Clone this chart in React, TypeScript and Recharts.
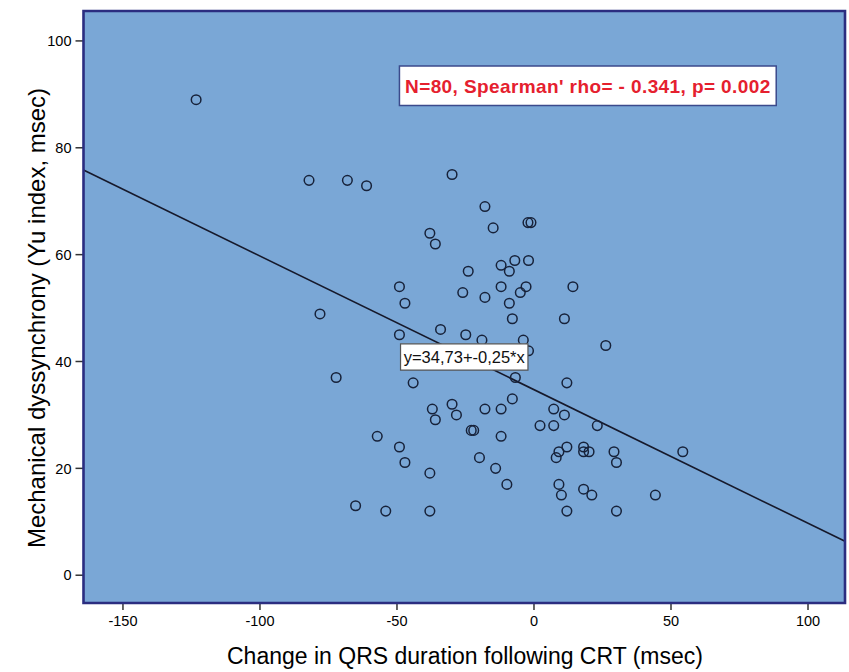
import {
  ScatterChart,
  Scatter,
  XAxis,
  YAxis,
  CartesianGrid,
  ReferenceArea,
  ReferenceLine,
} from "recharts";

// change in QRS duration (msec)
const qrsChange = [
  -123.3, -82.1, -68.1, -61.1, -29.9, -17.9, -14.9, -2.2, -1.1, -38.0,
  -36.0, -7.0, -2.0, -12.0, -9.0, -24.0, -49.1, -12.0, -2.9, 14.2,
  -26.0, -5.0, -17.9, -47.1, -9.0, -78.1, -7.9, 11.1, -34.1, -49.1,
  -24.9, -19.0, -3.9, 26.2, -2.0, -72.2, -6.8, -44.1, 12.0, -7.9,
  -29.9, -37.1, -17.9, -12.0, 7.2, -28.3, 11.1, -36.0, 2.2, 7.2,
  23.1, -22.9, -22.0, -57.2, -12.0, -49.1, 12.0, 18.1, 9.1, 18.1,
  20.1, 29.2, 54.3, 8.1, -19.9, -47.1, 30.1, -14.0, -38.0, -9.9,
  9.1, 18.1, 10.0, 21.1, 44.3, -65.1, -54.1, -38.0, 12.0, 30.1,
];

// Yu index (msec)
const yuIndex = [
  89.0, 73.9, 73.9, 72.9, 75.0, 69.0, 65.0, 66.0, 66.0, 64.0,
  62.0, 58.9, 58.9, 58.0, 56.9, 56.9, 54.0, 54.0, 54.0, 54.0,
  52.9, 52.9, 52.0, 50.9, 50.9, 48.9, 48.0, 48.0, 46.0, 45.0,
  45.0, 44.0, 44.0, 43.0, 42.0, 37.0, 37.0, 36.0, 36.0, 33.0,
  32.0, 31.1, 31.1, 31.1, 31.1, 30.0, 30.0, 29.1, 28.0, 28.0,
  28.0, 27.1, 27.1, 26.0, 26.0, 24.0, 24.0, 24.0, 23.1, 23.1,
  23.1, 23.1, 23.1, 22.0, 22.0, 21.1, 21.1, 20.0, 19.1, 17.0,
  17.0, 16.1, 15.0, 15.0, 15.0, 13.0, 12.0, 12.0, 12.0, 12.0,
];

const xTicks = [-150, -100, -50, 0, 50, 100];
const yTicks = [0, 20, 40, 60, 80, 100];

const INTERCEPT = 34.73;
const SLOPE = -0.25;

const X_MIN = -164.4;
const X_MAX = 113.5;
const Y_MIN = -5.2;
const Y_MAX = 105.6;

const X_TITLE = "Change in QRS duration following CRT (msec)";
const Y_TITLE = "Mechanical dyssynchrony (Yu index, msec)";
const STATS_TEXT = "N=80, Spearman' rho= - 0.341, p= 0.002";
const FIT_TEXT = "y=34,73+-0,25*x";

const points = qrsChange.map((x, i) => ({ x, y: yuIndex[i] }));

const FONT = "'Liberation Sans', Arial, sans-serif";

function OpenCircle(props: any) {
  const { cx, cy } = props;
  if (cx == null || cy == null) return null;
  return (
    <circle
      cx={cx}
      cy={cy}
      r={4.8}
      fill="none"
      stroke="#17223a"
      strokeWidth={1.5}
    />
  );
}

function XTitle() {
  return (
    <text
      x={465}
      y={656}
      textAnchor="middle"
      dominantBaseline="central"
      fontSize={23}
      fontFamily={FONT}
      fill="#000"
    >
      {X_TITLE}
    </text>
  );
}

function YTitle() {
  return (
    <text
      x={36}
      y={318}
      transform="rotate(-90 36 318)"
      textAnchor="middle"
      dominantBaseline="central"
      fontSize={24}
      fontFamily={FONT}
      fill="#000"
    >
      {Y_TITLE}
    </text>
  );
}

export default function App() {
  return (
    <div style={{ position: "absolute", left: 0, top: 0, background: "#fff" }}>
      <ScatterChart
        width={849}
        height={672}
        margin={{ top: 11, right: 4, bottom: 0, left: 0 }}
      >
        <CartesianGrid
          horizontal={false}
          vertical={false}
          fill="#7aa7d6"
          fillOpacity={1}
        />
        <XAxis
          type="number"
          dataKey="x"
          domain={[X_MIN, X_MAX]}
          ticks={xTicks}
          allowDataOverflow
          height={69}
          axisLine={false}
          tickLine={{ stroke: "#333", strokeWidth: 1.5 }}
          tickSize={7}
          tickMargin={6}
          tick={{ fill: "#000", fontSize: 14.5, fontFamily: FONT }}
          label={{ content: XTitle }}
        />
        <YAxis
          type="number"
          dataKey="y"
          domain={[Y_MIN, Y_MAX]}
          ticks={yTicks}
          allowDataOverflow
          width={83.5}
          axisLine={false}
          tickLine={{ stroke: "#333", strokeWidth: 1.5 }}
          tickSize={8}
          tickMargin={4}
          tick={{ fill: "#000", fontSize: 14.5, fontFamily: FONT }}
          label={{ content: YTitle }}
        />
        <ReferenceLine
          segment={[
            { x: X_MIN, y: INTERCEPT + SLOPE * X_MIN },
            { x: X_MAX, y: INTERCEPT + SLOPE * X_MAX },
          ]}
          stroke="#16192b"
          strokeWidth={1.6}
          ifOverflow="visible"
        />
        <Scatter
          data={points}
          shape={OpenCircle}
          isAnimationActive={false}
        />
        <ReferenceArea
          x1={-49.1}
          x2={88.4}
          y1={87.9}
          y2={95.3}
          fill="#ffffff"
          fillOpacity={1}
          stroke="#3b4a8c"
          strokeWidth={1.5}
          zIndex={1500}
          label={{
            value: STATS_TEXT,
            position: "center",
            fill: "#e5202e",
            fontSize: 19,
            fontWeight: "bold",
            fontFamily: FONT,
            letterSpacing: 0.4,
          }}
        />
        <ReferenceArea
          x1={-48.7}
          x2={-2.2}
          y1={38.4}
          y2={43.3}
          fill="#ffffff"
          fillOpacity={1}
          stroke="#555"
          strokeWidth={1.2}
          zIndex={1500}
          label={{
            value: FIT_TEXT,
            position: "center",
            fill: "#111",
            fontSize: 16.5,
            fontFamily: FONT,
          }}
        />
        <ReferenceArea
          x1={X_MIN}
          x2={X_MAX}
          y1={Y_MIN}
          y2={Y_MAX}
          fill="none"
          stroke="#2b2d80"
          strokeWidth={2.6}
          zIndex={1600}
        />
      </ScatterChart>
    </div>
  );
}
